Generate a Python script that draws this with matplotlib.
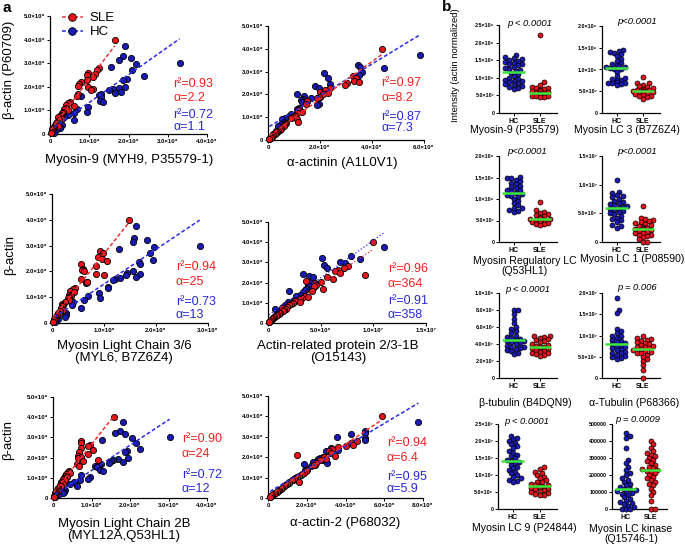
import numpy as np
import matplotlib
matplotlib.use('Agg')
import matplotlib.pyplot as plt
from matplotlib.lines import Line2D

plt.rcParams['font.family'] = ['Liberation Sans', 'DejaVu Sans']

# ---------------- DATA (panel a: beta-actin vs protein, y in x10^9) ----------------
SLE_ACTIN = [4.0, 2.8, 2.7, 2.6, 2.55, 2.5, 2.4, 2.3, 2.2, 2.1, 2.05, 2.0, 1.9, 1.85, 1.7, 1.6,
             1.35, 1.3, 1.25, 1.2, 1.1, 1.05, 1.0, 0.95, 0.9, 0.8, 0.75, 0.7, 0.65, 0.6, 0.5,
             0.45, 0.4, 0.35, 0.3, 0.25, 0.2, 0.15, 0.1, 0.05]
HC_ACTIN = [3.75, 3.3, 3.2, 3.15, 3.0, 2.95, 2.85, 2.7, 2.45, 2.35, 2.3, 2.0, 1.95, 1.9, 1.85,
            1.8, 1.75, 1.7, 1.65, 1.6, 1.55, 1.4, 1.35, 1.15, 1.05, 0.95, 0.9, 0.8, 0.7, 0.6,
            0.4, 0.3, 0.25, 0.15, 0.05]

# Myosin-9 (x10^9)
MYH9_SLE = [1.65, 1.25, 1.2, 0.98, 1.15, 0.95, 1.1, 0.95, 0.78, 0.75, 0.72, 0.98, 1.1, 1.05, 0.72,
            0.68, 0.5, 0.45, 0.42, 0.6, 0.4, 0.35, 0.45, 0.32, 0.3, 0.28, 0.25, 0.2, 0.3, 0.22,
            0.18, 0.15, 0.13, 0.2, 0.1, 0.08, 0.06, 0.05, 0.04, 0.02]
MYH9_HC = [1.9, 1.85, 2.07, 1.75, 3.3, 2.2, 1.55, 2.1, 2.4, 1.95, 1.85, 1.9, 1.75, 1.6, 1.5,
           1.82, 1.65, 1.3, 1.25, 0.78, 1.3, 1.28, 1.35, 0.98, 0.7, 0.95, 0.6, 0.45, 0.35, 0.62,
           0.3, 0.25, 0.25, 0.15, 0.1]
# alpha-actinin (x10^8)
ACTN_SLE = [4.4, 3.25, 3.4, 3.3, 3.5, 3.05, 2.95, 2.4, 2.2, 2.0, 2.3, 2.1, 1.95, 1.9, 1.5, 1.45,
            1.2, 1.15, 1.3, 1.1, 1.0, 1.05, 0.95, 0.9, 1.1, 1.15, 0.7, 0.65, 0.6, 0.6, 0.5, 0.45,
            0.4, 0.35, 0.3, 0.25, 0.2, 0.15, 0.1, 0.05]
ACTN_HC = [5.85, 3.45, 3.55, 4.45, 3.6, 2.15, 3.5, 2.3, 2.4, 1.8, 1.95, 1.1, 1.4, 2.0, 1.65, 1.35,
           1.25, 1.5, 1.3, 1.95, 1.9, 1.2, 1.1, 0.9, 0.8, 0.65, 0.55, 0.6, 0.5, 0.4, 0.3, 0.25,
           0.2, 0.12, 0.05]
# Myosin light chain 3/6 (x10^8)
MYL6_SLE = [1.49, 0.93, 0.98, 0.92, 0.88, 0.97, 1.05, 0.55, 0.85, 0.6, 0.58, 0.62, 0.85, 1.0,
            0.55, 0.68, 0.45, 0.4, 0.35, 0.42, 0.32, 0.36, 0.33, 0.3, 0.32, 0.25, 0.2, 0.22, 0.2,
            0.18, 0.22, 0.15, 0.12, 0.14, 0.1, 0.08, 0.06, 0.04, 0.04, 0.02]
MYL6_HC = [1.62, 1.58, 1.82, 1.55, 2.84, 1.96, 1.28, 1.88, 1.95, 1.68, 1.7, 1.55, 1.45, 1.69,
           1.42, 1.62, 1.3, 1.22, 1.18, 0.68, 0.66, 1.07, 1.08, 0.9, 0.7, 0.92, 0.62, 0.4, 0.39,
           0.55, 0.26, 0.26, 0.25, 0.12, 0.05]
# Actin-related protein 2/3-1B (x10^7)
ARP_SLE = [1.0, 0.76, 0.72, 0.66, 0.64, 0.68, 0.92, 0.56, 0.62, 0.36, 0.5, 0.45, 0.46, 0.44, 0.52,
           0.42, 0.35, 0.38, 0.32, 0.3, 0.26, 0.3, 0.24, 0.22, 0.2, 0.18, 0.13, 0.17, 0.15, 0.14,
           0.11, 0.1, 0.09, 0.08, 0.06, 0.05, 0.04, 0.03, 0.02, 0.01]
ARP_HC = [1.1, 0.79, 0.51, 0.87, 0.68, 0.73, 0.53, 0.56, 0.33, 0.39, 0.43, 0.41, 0.46, 0.38, 0.4,
          0.44, 0.42, 0.36, 0.35, 0.2, 0.33, 0.3, 0.27, 0.25, 0.19, 0.2, 0.16, 0.14, 0.07, 0.1,
          0.08, 0.06, 0.05, 0.03, 0.01]
# Myosin light chain 2B (x10^8)
MYL12_SLE = [1.58, 0.72, 0.72, 0.95, 0.9, 0.72, 1.03, 0.68, 0.9, 0.65, 0.72, 0.64, 1.18, 0.78,
             0.62, 0.68, 0.42, 0.38, 0.45, 0.35, 0.3, 0.36, 0.28, 0.25, 0.3, 0.22, 0.2, 0.25,
             0.18, 0.2, 0.14, 0.13, 0.1, 0.12, 0.08, 0.06, 0.05, 0.04, 0.03, 0.02]
MYL12_HC = [1.82, 1.74, 1.62, 1.88, 3.03, 2.05, 1.28, 2.15, 2.26, 1.92, 1.86, 1.95, 1.69, 1.56,
            1.5, 1.82, 1.46, 1.25, 1.2, 1.1, 1.15, 1.22, 1.3, 0.74, 0.95, 0.9, 0.71, 0.55, 0.45,
            0.62, 0.3, 0.28, 0.27, 0.12, 0.05]
# alpha-actin-2 (x10^8)
ACTA_SLE = [5.88, 4.6, 4.3, 4.4, 4.0, 3.6, 3.3, 3.15, 3.25, 1.49, 3.45, 2.9, 3.0, 2.7, 2.5, 2.35,
            2.0, 1.95, 1.85, 1.75, 1.6, 1.5, 1.4, 1.35, 1.25, 1.6, 1.1, 1.0, 0.9, 0.85, 0.7, 0.65,
            0.55, 0.5, 0.45, 0.35, 0.3, 0.2, 0.15, 0.1]
ACTA_HC = [7.76, 5.0, 5.03, 4.3, 3.57, 5.02, 5.0, 4.35, 3.25, 3.6, 3.0, 2.85, 2.7, 2.6, 2.8, 2.55,
           2.3, 3.06, 1.88, 2.4, 2.2, 2.0, 1.9, 1.7, 1.5, 1.35, 1.3, 1.1, 1.0, 0.85, 0.55, 0.45,
           0.35, 0.2, 0.1]

A_TITLES = ["Myosin-9 (MYH9, P35579-1)", "α-actinin (A1L0V1)",
            "Myosin Light Chain 3/6\n(MYL6, B7Z6Z4)", "Actin-related protein 2/3-1B\n(O15143)",
            "Myosin Light Chain 2B\n(MYL12A,Q53HL1)", "α-actin-2 (P68032)"]
A_R2_SLE = ["0.93", "0.97", "0.94", "0.96", "0.90", "0.94"]
A_AL_SLE = ["2.2", "8.2", "25", "364", "24", "6.4"]
A_R2_HC = ["0.72", "0.87", "0.73", "0.91", "0.72", "0.95"]
A_AL_HC = ["1.1", "7.3", "13", "358", "12", "5.9"]
A_YTICKS = [0, 1, 2, 3, 4, 5]
A_YTICKLABELS = ["0", "1.0×10⁹", "2.0×10⁹", "3.0×10⁹", "4.0×10⁹", "5.0×10⁹"]
A_XTICKS = [[0, 1, 2, 3, 4], [0, 2, 4, 6], [0, 1, 2, 3], [0, 0.5, 1.0, 1.5], [0, 1, 2, 3, 4],
            [0, 2, 4, 6, 8]]
A_XTICKLABELS = [["0", "1.0×10⁹", "2.0×10⁹", "3.0×10⁹", "4.0×10⁹"],
                 ["0", "2.0×10⁸", "4.0×10⁸", "6.0×10⁸"],
                 ["0", "1.0×10⁸", "2.0×10⁸", "3.0×10⁸"],
                 ["0", "5.0×10⁶", "1.0×10⁷", "1.5×10⁷"],
                 ["0", "1.0×10⁸", "2.0×10⁸", "3.0×10⁸", "4.0×10⁸"],
                 ["0", "2.0×10⁸", "4.0×10⁸", "6.0×10⁸", "8.0×10⁸"]]

# ---------------- DATA (panel b: actin-normalized intensities) ----------------
B_TITLES = ["Myosin-9 (P35579)", "Myosin LC 3 (B7Z6Z4)", "Myosin Regulatory LC\n(Q53HL1)",
            "Myosin LC 1 (P08590)", "β-tubulin (B4DQN9)", "α-Tubulin (P68366)",
            "Myosin LC 9 (P24844)", "Myosin LC kinase\n(Q15746-1)"]
B_PVALS = ["p < 0.0001", "p<0.0001", "p<0.0001", "p<0.0001", "p < 0.0001", "p = 0.006",
           "p < 0.0001", "p = 0.0009"]
B_GROUPS = ["HC", "SLE"]
# Myosin-9 (x10^8)
B1_HC = [1.65, 1.58, 1.55, 1.52, 1.5, 1.48, 1.45, 1.42, 1.4, 1.38, 1.35, 1.3, 1.28, 1.25, 1.22,
         1.2, 1.15, 1.1, 1.05, 1.0, 0.98, 0.95, 0.92, 0.9, 0.88, 0.85, 0.82, 0.8, 0.78, 0.75,
         0.72, 0.68]
B1_SLE = [2.22, 0.88, 0.8, 0.75, 0.72, 0.7, 0.68, 0.65, 0.63, 0.62, 0.6, 0.58, 0.57, 0.55, 0.54,
          0.53, 0.52, 0.51, 0.5, 0.5, 0.49, 0.48, 0.47, 0.46, 0.45]
# Myosin LC 3 (x10^8)
B2_HC = [1.45, 1.42, 1.4, 1.38, 1.35, 1.3, 1.25, 1.2, 1.15, 1.12, 1.1, 1.08, 1.06, 1.05, 1.04,
         1.02, 1.0, 0.95, 0.85, 0.8, 0.78, 0.75, 0.75, 0.72, 0.7, 0.7, 0.68, 0.66, 0.65]
B2_SLE = [0.82, 0.7, 0.68, 0.65, 0.62, 0.6, 0.58, 0.56, 0.55, 0.54, 0.52, 0.51, 0.5, 0.5, 0.49,
          0.48, 0.47, 0.46, 0.45, 0.44, 0.42, 0.4, 0.38, 0.36, 0.33]
# Myosin regulatory LC (x10^8)
B3_HC = [1.52, 1.5, 1.48, 1.45, 1.42, 1.38, 1.35, 1.3, 1.28, 1.25, 1.22, 1.2, 1.18, 1.15, 1.12,
         1.1, 1.08, 1.05, 1.0, 0.95, 0.9, 0.85, 0.8, 0.78, 0.75, 0.72, 0.7]
B3_SLE = [0.93, 0.75, 0.7, 0.68, 0.65, 0.62, 0.6, 0.58, 0.56, 0.55, 0.54, 0.53, 0.52, 0.51, 0.5,
          0.49, 0.48, 0.47, 0.46, 0.45, 0.43, 0.42, 0.4]
# Myosin LC 1 (x10^7)
B4_HC = [1.08, 0.88, 0.85, 0.82, 0.8, 0.78, 0.75, 0.72, 0.7, 0.68, 0.66, 0.64, 0.62, 0.61, 0.6,
         0.58, 0.56, 0.54, 0.52, 0.5, 0.48, 0.45, 0.42, 0.4, 0.38, 0.35, 0.3, 0.28, 0.25]
B4_SLE = [0.63, 0.42, 0.4, 0.38, 0.36, 0.35, 0.33, 0.32, 0.3, 0.28, 0.26, 0.25, 0.24, 0.23, 0.22,
          0.21, 0.2, 0.18, 0.16, 0.15, 0.13, 0.12, 0.1, 0.08, 0.05, 0.0, 0.0]
# beta-tubulin (x10^8)
B5_HC = [0.8, 0.8, 0.75, 0.7, 0.65, 0.6, 0.58, 0.55, 0.53, 0.5, 0.48, 0.47, 0.46, 0.45, 0.44,
         0.43, 0.42, 0.41, 0.4, 0.38, 0.37, 0.36, 0.35, 0.34, 0.33, 0.32, 0.3, 0.28]
B5_SLE = [0.5, 0.49, 0.48, 0.47, 0.46, 0.45, 0.43, 0.42, 0.4, 0.39, 0.38, 0.37, 0.36, 0.35, 0.34,
          0.33, 0.32, 0.31, 0.3, 0.29, 0.28, 0.27, 0.26]
# alpha-tubulin (x10^7)
B6_HC = [1.88, 1.6, 1.52, 1.15, 1.1, 1.05, 1.0, 0.98, 0.95, 0.9, 0.88, 0.85, 0.82, 0.8, 0.78,
         0.75, 0.72, 0.7, 0.68, 0.65, 0.62, 0.6, 0.58, 0.55, 0.52, 0.5, 0.48, 0.45]
B6_SLE = [0.98, 0.95, 0.92, 0.9, 0.88, 0.85, 0.82, 0.8, 0.78, 0.75, 0.73, 0.72, 0.7, 0.68, 0.66,
          0.64, 0.62, 0.6, 0.58, 0.55, 0.5, 0.45, 0.4, 0.3, 0.2, 0.0]
# Myosin LC 9 (x10^7)
B7_HC = [2.15, 2.1, 2.05, 2.0, 1.95, 1.9, 1.85, 1.8, 1.7, 1.65, 1.6, 1.55, 1.5, 1.45, 1.42, 1.38,
         1.35, 1.3, 1.25, 1.2, 1.15, 1.1, 1.05, 1.0, 0.95, 0.9, 0.85, 0.82, 0.8]
B7_SLE = [1.25, 1.18, 1.1, 1.05, 1.0, 0.95, 0.9, 0.85, 0.8, 0.78, 0.75, 0.72, 0.7, 0.68, 0.66,
          0.64, 0.62, 0.6, 0.58, 0.55, 0.52, 0.5, 0.48, 0.45, 0.42, 0.4]
# Myosin LC kinase (raw)
B8_HC = [450000, 430000, 420000, 360000, 290000, 270000, 250000, 230000, 210000, 200000, 180000,
         170000, 160000, 150000, 140000, 130000, 120000, 115000, 110000, 105000, 100000, 95000,
         90000, 80000, 70000, 60000, 50000, 40000, 35000, 30000, 20000, 10000, 0, 0, 0]
B8_SLE = [400000, 380000, 360000, 340000, 330000, 320000, 310000, 300000, 290000, 280000, 270000,
          260000, 250000, 240000, 235000, 230000, 225000, 220000, 210000, 200000, 190000, 180000,
          170000, 160000, 150000, 140000, 120000, 100000, 80000, 50000, 0, 0]

B_YTICKS = [[0, 0.5, 1.0, 1.5, 2.0, 2.5], [0, 0.5, 1.0, 1.5, 2.0], [0, 0.5, 1.0, 1.5, 2.0],
            [0, 0.5, 1.0, 1.5], [0, 0.2, 0.4, 0.6, 0.8, 1.0], [0, 0.5, 1.0, 1.5, 2.0],
            [0, 0.5, 1.0, 1.5, 2.0, 2.5], [0, 100000, 200000, 300000, 400000, 500000]]
B_YTICKLABELS = [["0", "5.0×10⁷", "1.0×10⁸", "1.5×10⁸", "2.0×10⁸", "2.5×10⁸"],
                 ["0", "5.0×10⁷", "1.0×10⁸", "1.5×10⁸", "2.0×10⁸"],
                 ["0", "5.0×10⁷", "1.0×10⁸", "1.5×10⁸", "2.0×10⁸"],
                 ["0", "5.0×10⁶", "1.0×10⁷", "1.5×10⁷"],
                 ["0", "2.0×10⁷", "4.0×10⁷", "6.0×10⁷", "8.0×10⁷", "1.0×10⁸"],
                 ["0", "5.0×10⁶", "1.0×10⁷", "1.5×10⁷", "2.0×10⁷"],
                 ["0", "5.0×10⁶", "1.0×10⁷", "1.5×10⁷", "2.0×10⁷", "2.5×10⁷"],
                 ["0", "100000", "200000", "300000", "400000", "500000"]]

# ---------------- STYLE / LAYOUT ----------------
W, H = 685, 546
fig = plt.figure(figsize=(W / 100, H / 100), dpi=100)
RED = '#e8141c'
BLUE = '#1a1ab4'
TRED = '#f02020'
TBLUE = '#2828d8'
GREEN = '#3ce63c'


def ax_px(l, t, r, b):
    return fig.add_axes([l / W, 1 - b / H, (r - l) / W, (b - t) / H])


def txt(x, y, s, **kw):
    kw.setdefault('ha', 'center')
    kw.setdefault('va', 'center')
    fig.text(x / W, 1 - y / H, s, **kw)


def style_axes(ax):
    for sp in ['top', 'right']:
        ax.spines[sp].set_visible(False)
    for sp in ['left', 'bottom']:
        ax.spines[sp].set_linewidth(0.9)
    ax.tick_params(length=2.2, width=0.7, pad=1.2, labelsize=4.3)
    for lab in ax.get_xticklabels() + ax.get_yticklabels():
        lab.set_fontweight('bold')


# ---------------- PANEL a ----------------
a_boxes = [(50, 16, 207, 134), (268, 26, 424, 140), (52, 194, 208, 323),
           (268, 222, 426, 323), (53, 397, 207, 498), (268, 396, 423, 498)]
a_data = [(MYH9_SLE, MYH9_HC), (ACTN_SLE, ACTN_HC), (MYL6_SLE, MYL6_HC),
          (ARP_SLE, ARP_HC), (MYL12_SLE, MYL12_HC), (ACTA_SLE, ACTA_HC)]
a_text_pos = [(173, (84, 98, 115, 127)), (381, (83, 98, 117, 128)),
              (176, (267, 282, 302, 315)), (388, (269, 284, 301, 315)),
              (182, (439, 454, 475, 489)), (387, (443, 458, 477, 489))]
a_title_pos = [(129, 160), (342, 163), (124, 352), (338, 352), (124, 530), (345, 523)]

for i, (box, (xs_sle, xs_hc)) in enumerate(zip(a_boxes, a_data)):
    ax = ax_px(*box)
    xt = A_XTICKS[i]
    ax.set_xlim(0, xt[-1])
    ax.set_ylim(0, 5)
    ax.scatter(xs_hc, HC_ACTIN, s=20, c=BLUE, edgecolors='black', linewidths=0.6,
               zorder=3, clip_on=False)
    ax.scatter(xs_sle, SLE_ACTIN, s=20, c=RED, edgecolors='black', linewidths=0.6,
               zorder=4, clip_on=False)
    ls = ':' if i == 3 else (0, (2.5, 1.5))
    lw = 0.9 if i == 3 else 1.1
    for xs, ys, col, z in [(xs_hc, HC_ACTIN, '#2a2ae6', 5), (xs_sle, SLE_ACTIN, '#f03030', 6)]:
        xs = np.asarray(xs, float)
        ys = np.asarray(ys, float)
        k, b0 = np.polyfit(xs, ys, 1)
        xx = np.array([xs.min(), xs.max()])
        ax.plot(xx, k * xx + b0, color=col, ls=ls, lw=lw, zorder=z)
    ax.set_xticks(xt)
    ax.set_xticklabels(A_XTICKLABELS[i])
    ax.set_yticks(A_YTICKS)
    ax.set_yticklabels(A_YTICKLABELS)
    style_axes(ax)
    tx, tys = a_text_pos[i]
    txt(tx, tys[0], "r²=" + A_R2_SLE[i], color=TRED, fontsize=9, ha='left')
    txt(tx, tys[1], "α=" + A_AL_SLE[i], color=TRED, fontsize=9, ha='left')
    txt(tx, tys[2], "r²=" + A_R2_HC[i], color=TBLUE, fontsize=9, ha='left')
    txt(tx, tys[3], "α=" + A_AL_HC[i], color=TBLUE, fontsize=9, ha='left')
    txt(a_title_pos[i][0], a_title_pos[i][1], A_TITLES[i], fontsize=9.5, linespacing=1.05)
    if i == 0:
        handles = [Line2D([], [], color='#f03030', ls=(0, (2.5, 1.5)), lw=1.1, marker='o',
                          mfc=RED, mec='black', mew=0.6, ms=5.5),
                   Line2D([], [], color='#2a2ae6', ls=(0, (2.5, 1.5)), lw=1.1, marker='o',
                          mfc=BLUE, mec='black', mew=0.6, ms=5.5)]
        ax.legend(handles, ["SLE", "HC"], loc='upper left', frameon=False, fontsize=9.5,
                  bbox_to_anchor=(54 / W, 1 - 4 / H), bbox_transform=fig.transFigure,
                  handlelength=1.6, handletextpad=0.5, labelspacing=0.15, borderpad=0.1)

txt(9, 70, "β-actin (P60709)", fontsize=9.5, rotation=90)
txt(10, 255, "β-actin", fontsize=9.5, rotation=90)
txt(8, 440, "β-actin", fontsize=9.5, rotation=90)
txt(7, 8, "a", fontsize=11, fontweight='bold')
txt(447, 7, "b", fontsize=11, fontweight='bold')
txt(456, 65, "Intensity (actin normalized)", fontsize=6.8, rotation=90)


# ---------------- PANEL b ----------------
def swarm_offsets(vals, ymax, h_px, d_px, max_off):
    y = np.asarray(vals, float) / ymax * h_px
    order = np.argsort(y)
    offs = np.zeros(len(y))
    placed = []
    step = d_px * 0.45
    for idx in order:
        k = 0
        best = None
        while k * step <= max_off:
            cands = [0.0] if k == 0 else [k * step, -k * step]
            for c in cands:
                if all((c - px) ** 2 + (y[idx] - py) ** 2 >= (d_px * 0.8) ** 2
                       for px, py in placed):
                    best = c
                    break
            if best is not None:
                break
            k += 1
        if best is None:
            best = 0.0
        offs[idx] = best
        placed.append((best, y[idx]))
    return offs


b_boxes = [(499, 25, 557, 113), (602, 26, 660, 113), (499, 156, 557, 242),
           (602, 156, 660, 242), (499, 293, 557, 378), (602, 293, 660, 378),
           (498, 424, 557, 509), (612, 424, 667, 509)]
b_data = [(B1_HC, B1_SLE), (B2_HC, B2_SLE), (B3_HC, B3_SLE), (B4_HC, B4_SLE),
          (B5_HC, B5_SLE), (B6_HC, B6_SLE), (B7_HC, B7_SLE), (B8_HC, B8_SLE)]
b_title_pos = [(515, 130), (627, 130), (525, 266), (632, 259), (525, 403), (634, 403),
               (524, 528), (631, 534)]
b_p_pos = [(530, 23), (637, 22), (527, 152), (637, 152), (528, 290), (637, 288),
           (527, 421), (638, 420)]

for i, (box, (hc, sle)) in enumerate(zip(b_boxes, b_data)):
    ax = ax_px(*box)
    yt = B_YTICKS[i]
    ymax = yt[-1]
    ax.set_xlim(0.45, 2.65)
    ax.set_ylim(0, ymax)
    w_px = box[2] - box[0]
    h_px = box[3] - box[1]
    px_per_x = w_px / (2.65 - 0.45)
    d_px = 4.6
    for g, (vals, col) in enumerate([(hc, BLUE), (sle, RED)]):
        offs = swarm_offsets(vals, ymax, h_px, d_px, 10.5)
        xs = (g + 1) + offs / px_per_x
        ax.scatter(xs, vals, s=13, c=col, edgecolors='black', linewidths=0.5, zorder=3,
                   clip_on=False)
        med = np.median(vals)
        ax.plot([g + 1 - 0.42, g + 1 + 0.42], [med, med], color=GREEN, lw=1.8, zorder=4,
                solid_capstyle='butt')
    ax.set_xticks([1, 2])
    ax.set_xticklabels(B_GROUPS)
    ax.set_yticks(yt)
    ax.set_yticklabels(B_YTICKLABELS[i])
    style_axes(ax)
    ax.tick_params(axis='x', labelsize=5.0)
    ax.tick_params(axis='y', labelsize=3.9)
    txt(b_title_pos[i][0], b_title_pos[i][1], B_TITLES[i], fontsize=7.6, linespacing=1.05)
    txt(b_p_pos[i][0], b_p_pos[i][1], B_PVALS[i], fontsize=6.8, style='italic')

fig.savefig('out.png', dpi=100)
